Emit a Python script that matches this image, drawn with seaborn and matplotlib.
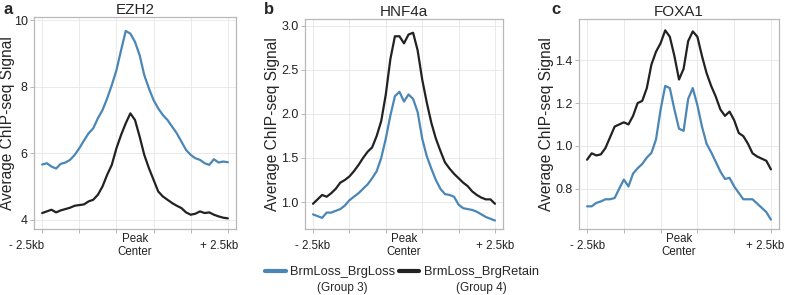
import numpy as np
import pandas as pd
import matplotlib
matplotlib.use('Agg')
import matplotlib.pyplot as plt
import matplotlib.transforms as mtransforms
import seaborn as sns
from matplotlib.lines import Line2D

# ================ DATA ==================
# position relative to the peak centre (kb), same grid for every profile
positions = np.linspace(-2.5, 2.5, 41)

groups = ['BrmLoss_BrgLoss', 'BrmLoss_BrgRetain']
group_notes = ['(Group 3)', '(Group 4)']
colors = ['#4a86b6', '#222222']

ezh2_loss = [5.66, 5.70, 5.60, 5.54, 5.68, 5.72, 5.80, 5.95, 6.15, 6.38,
             6.60, 6.75, 7.05, 7.30, 7.65, 8.05, 8.50, 9.10, 9.68, 9.60,
             9.35, 8.95, 8.35, 7.95, 7.60, 7.35, 7.15, 7.00, 6.80, 6.60,
             6.35, 6.10, 5.95, 5.85, 5.80, 5.70, 5.65, 5.82, 5.72, 5.75, 5.73]
ezh2_retain = [4.20, 4.25, 4.30, 4.22, 4.28, 4.32, 4.36, 4.42, 4.44, 4.46,
               4.55, 4.60, 4.75, 5.00, 5.35, 5.65, 6.15, 6.55, 6.90, 7.20,
               7.00, 6.50, 5.95, 5.55, 5.20, 4.85, 4.70, 4.60, 4.50, 4.42,
               4.35, 4.22, 4.15, 4.18, 4.25, 4.20, 4.22, 4.15, 4.10, 4.06, 4.04]

hnf4a_loss = [0.86, 0.84, 0.82, 0.88, 0.88, 0.90, 0.92, 0.96, 1.02, 1.06,
              1.10, 1.15, 1.20, 1.27, 1.35, 1.50, 1.72, 1.98, 2.20, 2.25,
              2.14, 2.22, 2.17, 2.02, 1.72, 1.52, 1.38, 1.25, 1.15, 1.09,
              1.08, 1.06, 0.97, 0.93, 0.92, 0.91, 0.89, 0.86, 0.83, 0.81, 0.79]
hnf4a_retain = [0.98, 1.03, 1.08, 1.06, 1.10, 1.15, 1.22, 1.25, 1.29, 1.35,
                1.42, 1.50, 1.57, 1.62, 1.75, 1.92, 2.22, 2.62, 2.88, 2.88,
                2.80, 2.90, 2.92, 2.72, 2.39, 2.13, 1.90, 1.72, 1.58, 1.45,
                1.38, 1.32, 1.27, 1.22, 1.18, 1.12, 1.08, 1.05, 1.03, 1.03, 0.98]

foxa1_loss = [0.717, 0.717, 0.733, 0.74, 0.75, 0.75, 0.756, 0.80, 0.842, 0.81,
              0.87, 0.895, 0.915, 0.945, 0.967, 1.03, 1.17, 1.28, 1.27, 1.17,
              1.08, 1.07, 1.22, 1.27, 1.19, 1.09, 1.01, 0.97, 0.925, 0.88,
              0.845, 0.85, 0.81, 0.78, 0.75, 0.75, 0.75, 0.73, 0.71, 0.69, 0.655]
foxa1_retain = [0.935, 0.965, 0.955, 0.96, 0.99, 1.04, 1.09, 1.10, 1.11, 1.10,
                1.14, 1.20, 1.21, 1.27, 1.38, 1.44, 1.48, 1.54, 1.51, 1.42,
                1.31, 1.36, 1.49, 1.535, 1.51, 1.42, 1.34, 1.28, 1.23, 1.17,
                1.14, 1.16, 1.12, 1.06, 1.045, 1.01, 0.965, 0.95, 0.94, 0.93, 0.89]

titles = ['EZH2', 'HNF4a', 'FOXA1']
letters = ['a', 'b', 'c']
profiles = [(ezh2_loss, ezh2_retain), (hnf4a_loss, hnf4a_retain), (foxa1_loss, foxa1_retain)]
y_ticks = [[4, 6, 8, 10], [1.0, 1.5, 2.0, 2.5, 3.0], [0.8, 1.0, 1.2, 1.4]]
y_ticklabels = [['4', '6', '8', '10'], ['1.0', '1.5', '2.0', '2.5', '3.0'],
                ['0.8', '1.0', '1.2', '1.4']]
y_limits = [(3.72, 10.1), (0.694, 3.076), (0.611, 1.593)]
x_ticks = [-2.5, -1.5, -0.5, 0.5, 1.5, 2.5]
x_ticklabels = ['- 2.5kb', '', '', '', '', '+ 2.5kb']

# ================ PLOT ==================
sns.set_theme(style='whitegrid')
plt.rcParams['font.family'] = ['Liberation Sans', 'DejaVu Sans']

fig = plt.figure(figsize=(7.85, 2.95), dpi=100)
# axes boxes in pixels: left, right, top, bottom
boxes = [(34, 236, 17, 229), (305, 503, 19, 229), (579, 779, 19, 229)]
ylabel_x = [-0.094, -0.126, -0.125]
letter_x = [3, 264, 551]
# nudges (px) for the end labels of the x axis
label_shift = [(-16, -9), (0, 0), (0, -6)]

for k in range(3):
    l, r, t, b = boxes[k]
    ax = fig.add_axes([l / 785, 1 - b / 295, (r - l) / 785, (b - t) / 295])
    df = pd.DataFrame({
        'pos': np.concatenate([positions, positions]),
        'signal': np.concatenate(profiles[k]),
        'group': [groups[0]] * len(positions) + [groups[1]] * len(positions),
    })
    sns.lineplot(data=df, x='pos', y='signal', hue='group', hue_order=groups,
                 palette=colors, linewidth=1.6, legend=False, ax=ax)

    ax.set_xlim(-2.72, 2.72)
    ax.set_ylim(*y_limits[k])
    ax.set_xticks(x_ticks, x_ticklabels)
    ax.set_xticks([0], ['Peak\nCenter'], minor=True)
    ax.set_yticks(y_ticks[k], y_ticklabels[k])
    ax.set_xlabel('')
    ax.set_ylabel('Average ChIP-seq Signal', fontsize=11.2)
    ax.yaxis.set_label_coords(ylabel_x[k], 0.5)
    ax.set_title(titles[k], fontsize=11, pad=2)

    ax.tick_params(axis='x', which='major', length=3, width=0.6, color='#aaaaaa',
                   pad=9, labelsize=8.3, labelcolor='#222222', bottom=True)
    ax.tick_params(axis='x', which='minor', length=0, pad=12, labelsize=8.3,
                   labelcolor='#222222', bottom=True)
    ax.tick_params(axis='y', length=3, width=0.6, color='#aaaaaa', pad=1.5,
                   labelsize=9, labelcolor='#222222', left=True)
    for lab in ax.get_xticklabels(which='both'):
        lab.set_va('center')
        lab.set_linespacing(1.05)
    majors = ax.get_xticklabels()
    for lab, dx in zip([majors[0], majors[-1]], label_shift[k]):
        lab.set_transform(lab.get_transform() +
                          mtransforms.ScaledTranslation(dx / 100, 0, fig.dpi_scale_trans))

    ax.grid(True, which='major', color='#e6e6e6', linewidth=0.6)
    ax.xaxis.grid(False, which='minor')
    for s in ax.spines.values():
        s.set_color('#b8b8b8')
        s.set_linewidth(0.9)

    fig.text(letter_x[k] / 785, 1 - 14 / 295, letters[k], fontsize=12,
             fontweight='bold', ha='left', va='baseline')

handles = [Line2D([], [], color=c, linewidth=3) for c in colors]
leg = fig.legend(handles, groups, loc='center', bbox_to_anchor=(0.512, 1 - 272 / 295),
                 ncol=2, frameon=False, fontsize=9.3, handlelength=1.6,
                 handletextpad=0.35, columnspacing=0.25, borderpad=0)

fig.canvas.draw()
for txt, note in zip(leg.get_texts(), group_notes):
    bb = txt.get_window_extent()
    cx = (bb.x0 + bb.x1) / 2 / fig.bbox.width
    fig.text(cx, 1 - 288 / 295, note, fontsize=8.5, ha='center', va='center')

plt.savefig('out.png', dpi=100)
